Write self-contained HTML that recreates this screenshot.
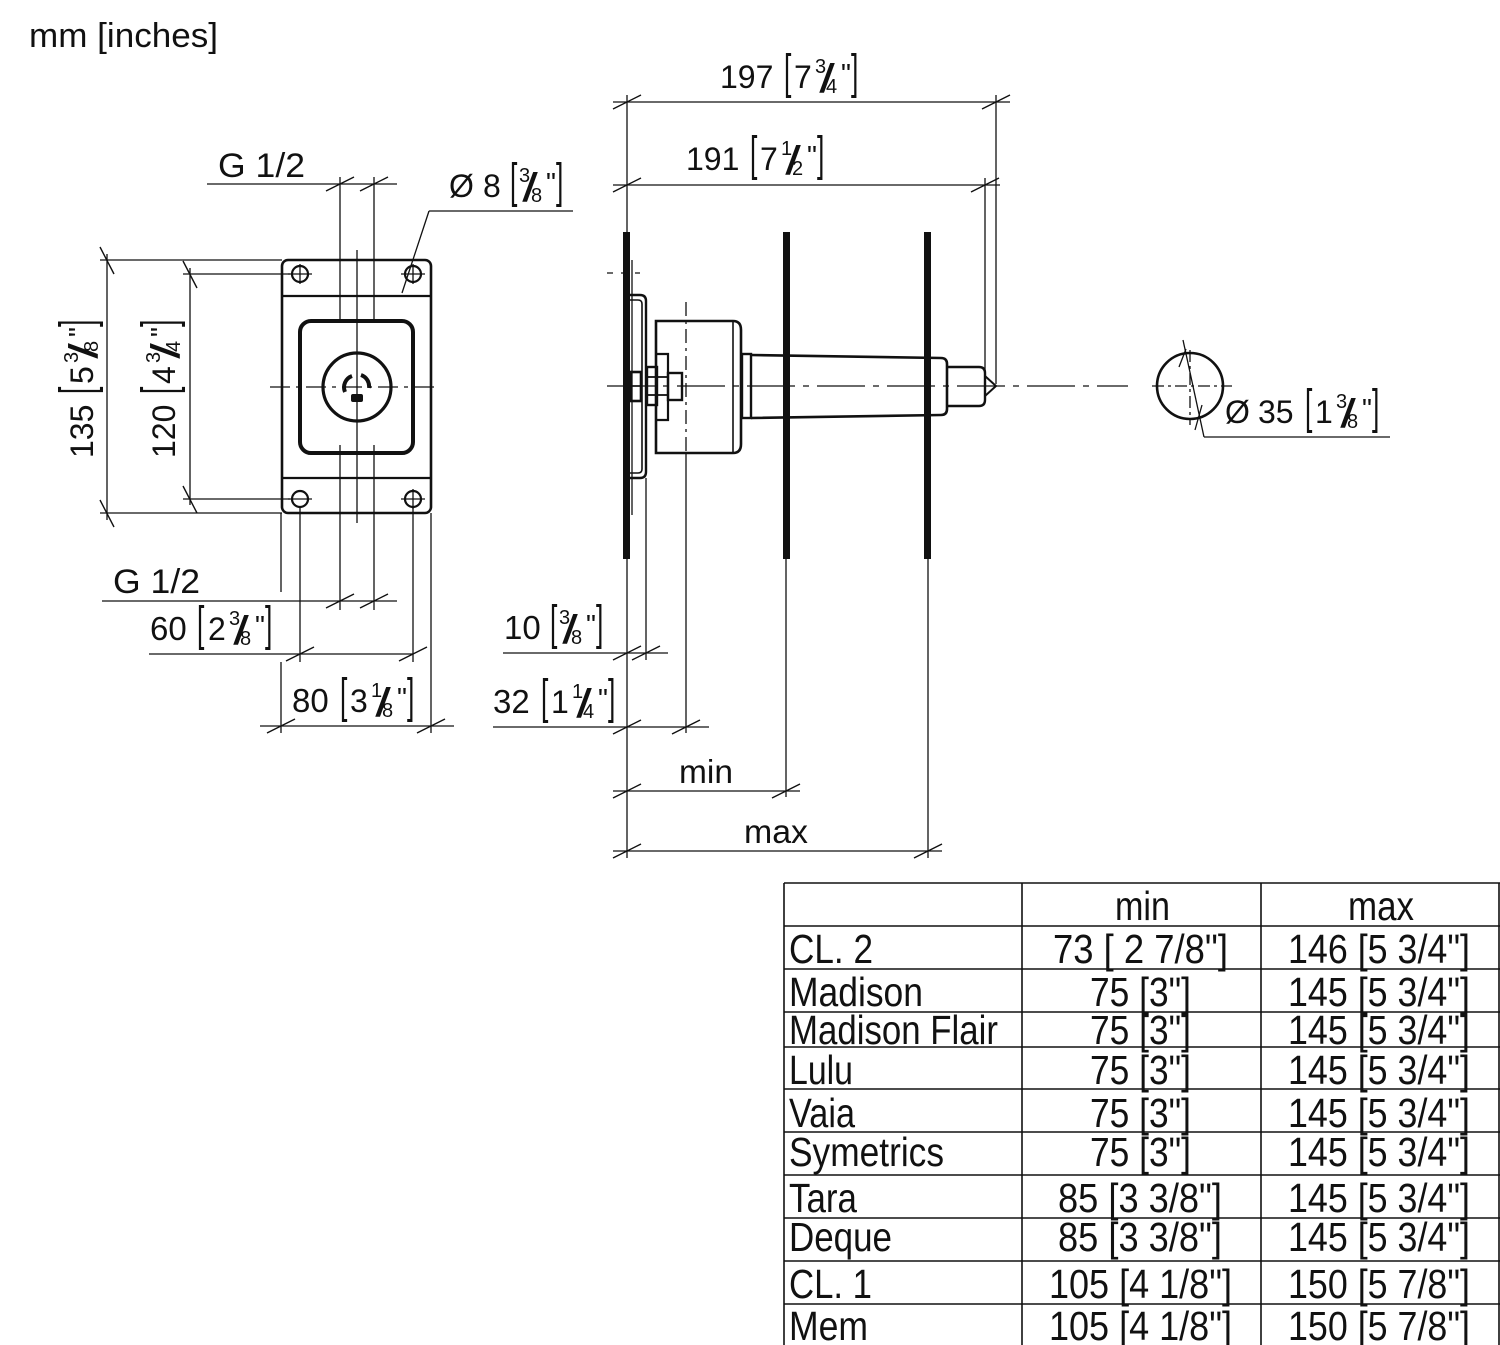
<!DOCTYPE html>
<html><head><meta charset="utf-8"><style>
html,body{margin:0;padding:0;background:#fff;}
svg{display:block;}
text{font-family:"Liberation Sans",Arial,sans-serif;fill:#111;}
</style></head><body>
<svg width="1500" height="1345" viewBox="0 0 1500 1345" xmlns="http://www.w3.org/2000/svg">
<rect x="0" y="0" width="1500" height="1345" fill="#fff"/>

<text x="29" y="47" font-size="34" textLength="189" lengthAdjust="spacingAndGlyphs">mm [inches]</text>

<!-- ================= FRONT VIEW ================= -->
<g fill="none" stroke="#111">
  <rect x="282" y="260" width="149" height="253" rx="6" stroke-width="2.6"/>
  <line x1="282" y1="296" x2="431" y2="296" stroke-width="2.2"/>
  <line x1="282" y1="478" x2="431" y2="478" stroke-width="2.2"/>
  <rect x="300" y="321" width="113" height="132" rx="11" stroke-width="4"/>
  <circle cx="357" cy="387" r="34" stroke-width="3.2"/>
  <circle cx="300" cy="274" r="8" stroke-width="2.2"/>
  <circle cx="413" cy="274" r="8" stroke-width="2.2"/>
  <circle cx="300" cy="499" r="8" stroke-width="2.2"/>
  <circle cx="413" cy="499" r="8" stroke-width="2.2"/>
  <g stroke-width="1.3">
    <line x1="288" y1="274" x2="312" y2="274"/><line x1="300" y1="264" x2="300" y2="284"/>
    <line x1="401" y1="274" x2="425" y2="274"/><line x1="413" y1="264" x2="413" y2="284"/>
    <line x1="288" y1="499" x2="312" y2="499"/><line x1="401" y1="499" x2="425" y2="499"/>
    <line x1="413" y1="489" x2="413" y2="509"/>
  </g>
  <path d="M345,392 A12,12 0 0 1 352,376" stroke-width="4"/>
  <path d="M361,375 A12,12 0 0 1 369,388" stroke-width="4"/>
  <line x1="270" y1="387" x2="438" y2="387" stroke-width="1.3" stroke-dasharray="20 6 4 6"/>
  <line x1="357" y1="250" x2="357" y2="523" stroke-width="1.3"/>
  <g stroke-width="1.3">
    <line x1="340" y1="177" x2="340" y2="321"/><line x1="374" y1="177" x2="374" y2="321"/>
    <line x1="340" y1="445" x2="340" y2="610"/><line x1="374" y1="445" x2="374" y2="610"/>
    <line x1="207" y1="184" x2="397" y2="184"/>
    <line x1="102" y1="601" x2="397" y2="601"/>
    <line x1="149" y1="654" x2="413" y2="654"/>
    <line x1="260" y1="726" x2="454" y2="726"/>
    <line x1="281" y1="513" x2="281" y2="592"/><line x1="281" y1="662" x2="281" y2="733"/>
    <line x1="300" y1="507" x2="300" y2="662"/>
    <line x1="413" y1="507" x2="413" y2="662"/>
    <line x1="431" y1="513" x2="431" y2="733"/>
    <line x1="100" y1="260" x2="282" y2="260"/><line x1="100" y1="513" x2="282" y2="513"/>
    <line x1="107" y1="254" x2="107" y2="520"/>
    <line x1="183" y1="274" x2="290" y2="274"/><line x1="183" y1="499" x2="290" y2="499"/>
    <line x1="190" y1="268" x2="190" y2="505"/>
    <line x1="429" y1="211" x2="573" y2="211"/>
    <line x1="429" y1="211" x2="402" y2="293"/>
  </g>
  <g stroke-width="1.4">
    <line x1="326" y1="191" x2="354" y2="177"/><line x1="360" y1="191" x2="388" y2="177"/>
    <line x1="326" y1="608" x2="354" y2="594"/><line x1="360" y1="608" x2="388" y2="594"/>
    <line x1="286" y1="661" x2="314" y2="647"/><line x1="399" y1="661" x2="427" y2="647"/>
    <line x1="267" y1="733" x2="295" y2="719"/><line x1="417" y1="733" x2="445" y2="719"/>
    <line x1="100" y1="247" x2="114" y2="274"/><line x1="100" y1="500" x2="114" y2="527"/>
    <line x1="183" y1="261" x2="197" y2="288"/><line x1="183" y1="486" x2="197" y2="513"/>
  </g>
</g>
<rect x="351" y="394" width="12" height="8" rx="2" fill="#111"/>

<text x="218" y="177" font-size="34" textLength="87" lengthAdjust="spacingAndGlyphs">G 1/2</text>
<text x="113" y="593" font-size="34" textLength="87" lengthAdjust="spacingAndGlyphs">G 1/2</text>

<!-- Ø8 [3/8"] -->
<g>
  <text x="449" y="197" font-size="32">Ø</text>
  <text x="483" y="197" font-size="32">8</text>
  <text transform="translate(510,197) scale(0.55,1)" font-size="48">[</text>
  <text x="519" y="182" font-size="20">3</text>
  <text transform="translate(522,201) skewX(-10)" font-size="40" font-weight="bold">/</text>
  <text x="531" y="202" font-size="20">8</text>
  <text x="546" y="192" font-size="28">"</text>
  <text transform="translate(556,197) scale(0.55,1)" font-size="48">]</text>
</g>

<!-- 135 rotated -->
<g transform="translate(93,458) rotate(-90)">
  <text x="0" y="0" font-size="32">135</text>
  <text transform="translate(64,0) scale(0.55,1)" font-size="48">[</text>
  <text x="74" y="0" font-size="32">5</text>
  <text x="95" y="-15" font-size="20">3</text>
  <text transform="translate(99,4) skewX(-10)" font-size="40" font-weight="bold">/</text>
  <text x="106" y="5" font-size="20">8</text>
  <text x="121" y="-5" font-size="28">"</text>
  <text transform="translate(131,0) scale(0.55,1)" font-size="48">]</text>
</g>
<!-- 120 rotated -->
<g transform="translate(175,458) rotate(-90)">
  <text x="0" y="0" font-size="32">120</text>
  <text transform="translate(64,0) scale(0.55,1)" font-size="48">[</text>
  <text x="74" y="0" font-size="32">4</text>
  <text x="95" y="-15" font-size="20">3</text>
  <text transform="translate(99,4) skewX(-10)" font-size="40" font-weight="bold">/</text>
  <text x="106" y="5" font-size="20">4</text>
  <text x="121" y="-5" font-size="28">"</text>
  <text transform="translate(131,0) scale(0.55,1)" font-size="48">]</text>
</g>

<!-- 60 [2 3/8"] -->
<g>
  <text x="150" y="640" font-size="33">60</text>
  <text transform="translate(197,640) scale(0.55,1)" font-size="48">[</text>
  <text x="208" y="640" font-size="32">2</text>
  <text x="229" y="625" font-size="20">3</text>
  <text transform="translate(233,644) skewX(-10)" font-size="40" font-weight="bold">/</text>
  <text x="240" y="645" font-size="20">8</text>
  <text x="255" y="635" font-size="28">"</text>
  <text transform="translate(265,640) scale(0.55,1)" font-size="48">]</text>
</g>
<!-- 80 [3 1/8"] -->
<g>
  <text x="292" y="712" font-size="33">80</text>
  <text transform="translate(340,712) scale(0.55,1)" font-size="48">[</text>
  <text x="350" y="712" font-size="32">3</text>
  <text x="371" y="697" font-size="20">1</text>
  <text transform="translate(375,716) skewX(-10)" font-size="40" font-weight="bold">/</text>
  <text x="382" y="717" font-size="20">8</text>
  <text x="397" y="707" font-size="28">"</text>
  <text transform="translate(407,712) scale(0.55,1)" font-size="48">]</text>
</g>

<!-- ================= SIDE VIEW ================= -->
<g fill="none" stroke="#111">
  <g stroke-width="1.3">
    <line x1="627" y1="95" x2="627" y2="858"/>
    <line x1="786" y1="550" x2="786" y2="797"/>
    <line x1="928" y1="550" x2="928" y2="858"/>
    <line x1="996" y1="95" x2="996" y2="384"/>
    <line x1="985" y1="178" x2="985" y2="380"/>
    <line x1="646" y1="478" x2="646" y2="660"/>
    <line x1="686" y1="453" x2="686" y2="733"/>
    <line x1="686" y1="302" x2="686" y2="453" stroke-dasharray="14 5 3 5"/>
    <line x1="613" y1="102" x2="1010" y2="102"/>
    <line x1="613" y1="185" x2="1000" y2="185"/>
    <line x1="503" y1="653" x2="668" y2="653"/>
    <line x1="493" y1="727" x2="709" y2="727"/>
    <line x1="613" y1="791" x2="800" y2="791"/>
    <line x1="613" y1="851" x2="942" y2="851"/>
    <line x1="607" y1="273" x2="640" y2="273" stroke-dasharray="6 8"/>
    <line x1="632" y1="260" x2="632" y2="515"/>
  </g>
  <g stroke-width="1.4">
    <line x1="613" y1="109" x2="641" y2="95"/><line x1="982" y1="109" x2="1010" y2="95"/>
    <line x1="613" y1="192" x2="641" y2="178"/><line x1="971" y1="192" x2="999" y2="178"/>
    <line x1="613" y1="660" x2="641" y2="646"/><line x1="632" y1="660" x2="660" y2="646"/>
    <line x1="613" y1="734" x2="641" y2="720"/><line x1="672" y1="734" x2="700" y2="720"/>
    <line x1="613" y1="798" x2="641" y2="784"/><line x1="772" y1="798" x2="800" y2="784"/>
    <line x1="613" y1="858" x2="641" y2="844"/><line x1="914" y1="858" x2="942" y2="844"/>
  </g>
  <path d="M630,295 L640,295 Q646,295 646,301 L646,472 Q646,478 640,478 L630,478" stroke-width="2.4"/>
  <path d="M630,300 L638,300 Q642,300 642,304 L642,469 Q642,473 638,473 L630,473" stroke-width="1.6"/>
  <rect x="631" y="372" width="10" height="29" stroke-width="2.6"/>
  <line x1="631" y1="386" x2="641" y2="386" stroke-width="1.6"/>
  <rect x="647" y="367" width="10" height="38" stroke-width="2.4"/>
  <line x1="647" y1="377" x2="657" y2="377" stroke-width="1.8"/>
  <line x1="647" y1="395" x2="657" y2="395" stroke-width="1.8"/>
  <path d="M656,321 L733,321 Q741,321 741,330 L741,444 Q741,453 733,453 L656,453 Z" stroke-width="2.6"/>
  <line x1="733" y1="321" x2="733" y2="453" stroke-width="1.6"/>
  <path d="M656,354 L668,354 L668,420 L656,420" stroke-width="2.2"/>
  <rect x="668" y="373" width="14" height="27" stroke-width="2.4"/>
  <line x1="657" y1="377" x2="668" y2="377" stroke-width="1.8"/>
  <line x1="657" y1="395" x2="668" y2="395" stroke-width="1.8"/>
  <rect x="742" y="354" width="9" height="64" stroke-width="2.4"/>
  <path d="M751,355 L941,358 Q947,358 947,364 L947,409 Q947,415 941,415 L751,418" stroke-width="2.6"/>
  <path d="M947,367 L979,367 Q985,367 985,373 L985,400 Q985,406 979,406 L947,406" stroke-width="2.4"/>
  <path d="M985,376 L996,386 L985,396" stroke-width="2"/>
  <line x1="607" y1="386" x2="1128" y2="386" stroke-width="1.3" stroke-dasharray="48 8 6 8"/>
</g>
<rect x="623" y="232" width="7" height="327" fill="#111"/>
<rect x="783" y="232" width="7" height="327" fill="#111"/>
<rect x="924" y="232" width="7" height="327" fill="#111"/>

<!-- 197 -->
<g>
  <text x="720" y="88" font-size="32">197</text>
  <text transform="translate(784,88) scale(0.55,1)" font-size="48">[</text>
  <text x="794" y="88" font-size="32">7</text>
  <text x="815" y="73" font-size="20">3</text>
  <text transform="translate(819,92) skewX(-10)" font-size="40" font-weight="bold">/</text>
  <text x="826" y="93" font-size="20">4</text>
  <text x="841" y="83" font-size="28">"</text>
  <text transform="translate(851,88) scale(0.55,1)" font-size="48">]</text>
</g>
<!-- 191 -->
<g>
  <text x="686" y="170" font-size="32">191</text>
  <text transform="translate(750,170) scale(0.55,1)" font-size="48">[</text>
  <text x="760" y="170" font-size="32">7</text>
  <text x="781" y="155" font-size="20">1</text>
  <text transform="translate(785,174) skewX(-10)" font-size="40" font-weight="bold">/</text>
  <text x="792" y="175" font-size="20">2</text>
  <text x="807" y="165" font-size="28">"</text>
  <text transform="translate(817,170) scale(0.55,1)" font-size="48">]</text>
</g>
<!-- 10 -->
<g>
  <text x="504" y="639" font-size="33">10</text>
  <text transform="translate(550,639) scale(0.55,1)" font-size="48">[</text>
  <text x="559" y="624" font-size="20">3</text>
  <text transform="translate(562,643) skewX(-10)" font-size="40" font-weight="bold">/</text>
  <text x="571" y="644" font-size="20">8</text>
  <text x="586" y="634" font-size="28">"</text>
  <text transform="translate(596,639) scale(0.55,1)" font-size="48">]</text>
</g>
<!-- 32 -->
<g>
  <text x="493" y="713" font-size="33">32</text>
  <text transform="translate(541,713) scale(0.55,1)" font-size="48">[</text>
  <text x="551" y="713" font-size="32">1</text>
  <text x="572" y="698" font-size="20">1</text>
  <text transform="translate(576,717) skewX(-10)" font-size="40" font-weight="bold">/</text>
  <text x="583" y="718" font-size="20">4</text>
  <text x="598" y="708" font-size="28">"</text>
  <text transform="translate(608,713) scale(0.55,1)" font-size="48">]</text>
</g>
<text x="679" y="783" font-size="33" textLength="54" lengthAdjust="spacingAndGlyphs">min</text>
<text x="744" y="843" font-size="33" textLength="64" lengthAdjust="spacingAndGlyphs">max</text>

<!-- ================= CIRCLE ================= -->
<g fill="none" stroke="#111">
  <circle cx="1190" cy="386" r="33" stroke-width="2.6"/>
  <line x1="1152" y1="386" x2="1232" y2="386" stroke-width="1.3" stroke-dasharray="12 4 3 4"/>
  <line x1="1190" y1="350" x2="1190" y2="425" stroke-width="1.3" stroke-dasharray="12 4 3 4"/>
  <line x1="1183" y1="340" x2="1204" y2="437" stroke-width="1.3"/>
  <line x1="1204" y1="437" x2="1390" y2="437" stroke-width="1.3"/>
  <line x1="1179" y1="367" x2="1186" y2="349" stroke-width="1.3"/>
  <line x1="1195" y1="430" x2="1202" y2="405" stroke-width="1.3"/>
</g>
<g>
  <text x="1225" y="423" font-size="32">Ø</text>
  <text x="1258" y="423" font-size="32">35</text>
  <text transform="translate(1305,423) scale(0.55,1)" font-size="48">[</text>
  <text x="1315" y="423" font-size="32">1</text>
  <text x="1336" y="408" font-size="20">3</text>
  <text transform="translate(1340,427) skewX(-10)" font-size="40" font-weight="bold">/</text>
  <text x="1347" y="428" font-size="20">8</text>
  <text x="1362" y="418" font-size="28">"</text>
  <text transform="translate(1372,423) scale(0.55,1)" font-size="48">]</text>
</g>

<!-- ================= TABLE ================= -->
<g stroke="#111" stroke-width="1.6" fill="none">
  <line x1="784" y1="883" x2="1500" y2="883"/>
  <line x1="784" y1="926" x2="1500" y2="926"/>
  <line x1="784" y1="969" x2="1500" y2="969"/>
  <line x1="784" y1="1012" x2="1500" y2="1012"/>
  <line x1="784" y1="1047" x2="1500" y2="1047"/>
  <line x1="784" y1="1089" x2="1500" y2="1089"/>
  <line x1="784" y1="1132" x2="1500" y2="1132"/>
  <line x1="784" y1="1175" x2="1500" y2="1175"/>
  <line x1="784" y1="1218" x2="1500" y2="1218"/>
  <line x1="784" y1="1261" x2="1500" y2="1261"/>
  <line x1="784" y1="1304" x2="1500" y2="1304"/>
  <line x1="784" y1="883" x2="784" y2="1345"/>
  <line x1="1022" y1="883" x2="1022" y2="1345"/>
  <line x1="1261" y1="883" x2="1261" y2="1345"/>
  <line x1="1499" y1="883" x2="1499" y2="1345"/>
</g>
<g font-size="41">
  <text x="1115" y="920" textLength="55" lengthAdjust="spacingAndGlyphs">min</text>
  <text x="1348" y="920" textLength="66" lengthAdjust="spacingAndGlyphs">max</text>

  <text x="789" y="963" textLength="84" lengthAdjust="spacingAndGlyphs">CL. 2</text>
  <text x="1053" y="963" textLength="175" lengthAdjust="spacingAndGlyphs">73 [ 2 7/8"]</text>
  <text x="1288" y="963" textLength="182" lengthAdjust="spacingAndGlyphs">146 [5 3/4"]</text>

  <text x="789" y="1006" textLength="134" lengthAdjust="spacingAndGlyphs">Madison</text>
  <text x="1090" y="1006" textLength="101" lengthAdjust="spacingAndGlyphs">75 [3"]</text>
  <text x="1288" y="1006" textLength="182" lengthAdjust="spacingAndGlyphs">145 [5 3/4"]</text>

  <text x="789" y="1044" textLength="209" lengthAdjust="spacingAndGlyphs">Madison Flair</text>
  <text x="1090" y="1044" textLength="101" lengthAdjust="spacingAndGlyphs">75 [3"]</text>
  <text x="1288" y="1044" textLength="182" lengthAdjust="spacingAndGlyphs">145 [5 3/4"]</text>

  <text x="789" y="1084" textLength="64" lengthAdjust="spacingAndGlyphs">Lulu</text>
  <text x="1090" y="1084" textLength="101" lengthAdjust="spacingAndGlyphs">75 [3"]</text>
  <text x="1288" y="1084" textLength="182" lengthAdjust="spacingAndGlyphs">145 [5 3/4"]</text>

  <text x="789" y="1127" textLength="66" lengthAdjust="spacingAndGlyphs">Vaia</text>
  <text x="1090" y="1127" textLength="101" lengthAdjust="spacingAndGlyphs">75 [3"]</text>
  <text x="1288" y="1127" textLength="182" lengthAdjust="spacingAndGlyphs">145 [5 3/4"]</text>

  <text x="789" y="1166" textLength="155" lengthAdjust="spacingAndGlyphs">Symetrics</text>
  <text x="1090" y="1166" textLength="101" lengthAdjust="spacingAndGlyphs">75 [3"]</text>
  <text x="1288" y="1166" textLength="182" lengthAdjust="spacingAndGlyphs">145 [5 3/4"]</text>

  <text x="789" y="1212" textLength="68" lengthAdjust="spacingAndGlyphs">Tara</text>
  <text x="1058" y="1212" textLength="164" lengthAdjust="spacingAndGlyphs">85 [3 3/8"]</text>
  <text x="1288" y="1212" textLength="182" lengthAdjust="spacingAndGlyphs">145 [5 3/4"]</text>

  <text x="789" y="1251" textLength="103" lengthAdjust="spacingAndGlyphs">Deque</text>
  <text x="1058" y="1251" textLength="164" lengthAdjust="spacingAndGlyphs">85 [3 3/8"]</text>
  <text x="1288" y="1251" textLength="182" lengthAdjust="spacingAndGlyphs">145 [5 3/4"]</text>

  <text x="789" y="1298" textLength="83" lengthAdjust="spacingAndGlyphs">CL. 1</text>
  <text x="1049" y="1298" textLength="183" lengthAdjust="spacingAndGlyphs">105 [4 1/8"]</text>
  <text x="1288" y="1298" textLength="182" lengthAdjust="spacingAndGlyphs">150 [5 7/8"]</text>

  <text x="789" y="1340" textLength="79" lengthAdjust="spacingAndGlyphs">Mem</text>
  <text x="1049" y="1340" textLength="183" lengthAdjust="spacingAndGlyphs">105 [4 1/8"]</text>
  <text x="1288" y="1340" textLength="182" lengthAdjust="spacingAndGlyphs">150 [5 7/8"]</text>
</g>
</svg>
</body></html>
